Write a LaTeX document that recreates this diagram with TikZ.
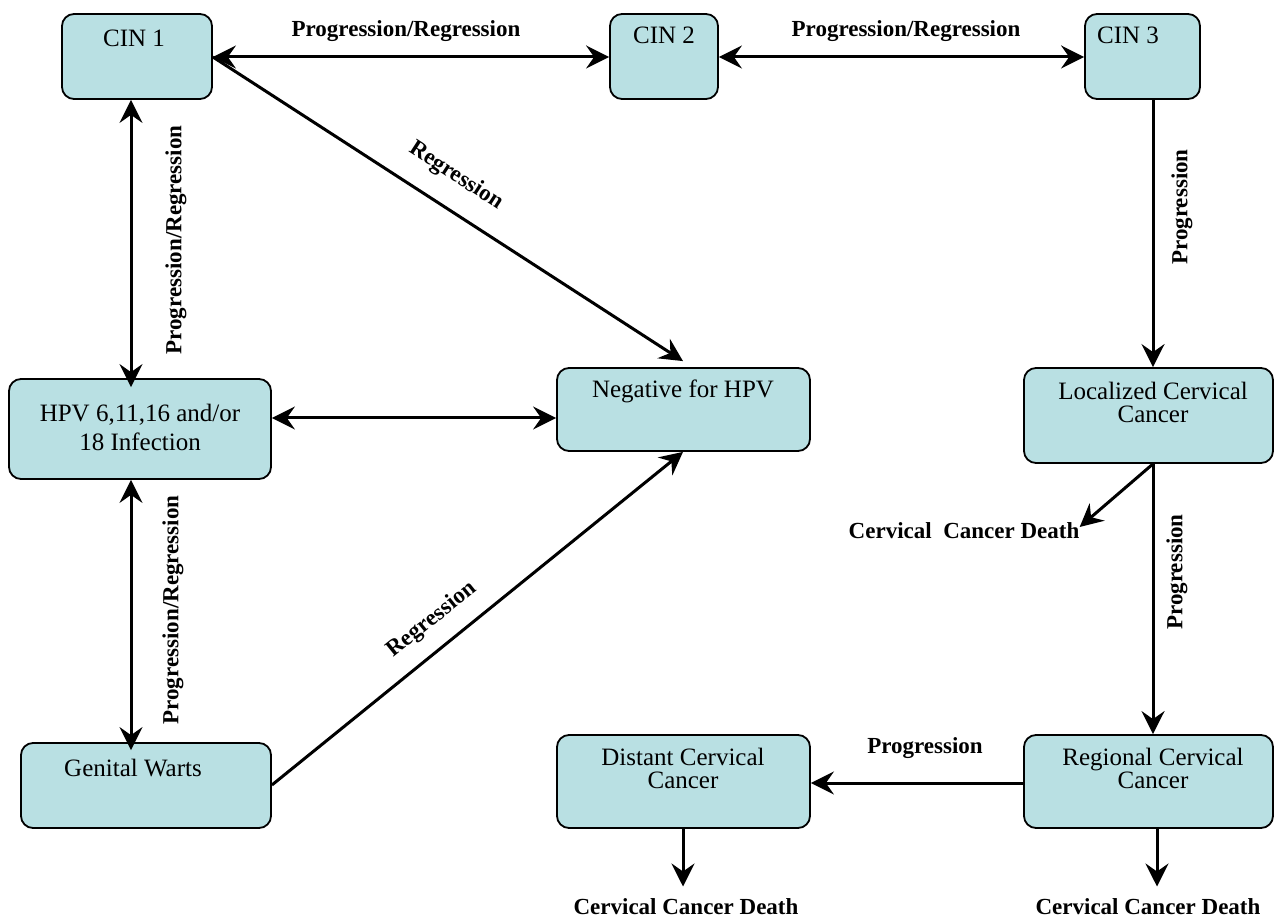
\documentclass[tikz,border=0pt]{standalone}
\usepackage{fontspec}
\setmainfont{Liberation Serif}
\usetikzlibrary{arrows.meta,fit}
\definecolor{boxfill}{RGB}{185,224,227}
\tikzset{
  box/.style={draw=black, fill=boxfill, rounded corners=6pt, line width=0.9pt, inner sep=0pt},
  boxtext/.style={font=\fontsize{12.5}{11.5}\selectfont, align=center, inner sep=0pt},
  lbl/.style={font=\bfseries\fontsize{11.5}{14}\selectfont, inner sep=0pt},
  tip/.tip={Stealth[length=11.5pt,width=11.5pt,inset=4pt]},
  conn/.style={line width=1.5pt, -tip},
  dconn/.style={line width=1.5pt, tip-tip}
}
\begin{document}
\begin{tikzpicture}[x=0.5pt,y=-0.5pt]
\useasboundingbox (0,0) rectangle (1274,919);
% boxes
\node[box, fit={(62,14) (212,99)}] (cin1) {};
\node[box, fit={(610,14) (718,99)}] (cin2) {};
\node[box, fit={(1085,14) (1200,99)}] (cin3) {};
\node[box, fit={(9,379) (271,479)}] (hpv) {};
\node[box, fit={(557,368) (810,451)}] (neg) {};
\node[box, fit={(1024,368) (1273,463)}] (loc) {};
\node[box, fit={(21,743) (271,828)}] (warts) {};
\node[box, fit={(557,735) (810,828)}] (dist) {};
\node[box, fit={(1024,735) (1273,828)}] (reg) {};
% box texts
\node[boxtext] (t1) at (134,38) {CIN 1};
\node[boxtext] (t2) at (664,35) {CIN 2};
\node[boxtext] (t3) at (1128,35) {CIN 3};
\node[boxtext, font=\fontsize{12.5}{14.5}\selectfont] (t4) at (140,427) {HPV 6,11,16 and/or\\18 Infection};
\node[boxtext] (t5) at (683,391) {Negative for HPV};
\node[boxtext] (t6) at (1153,402) {Localized Cervical\\Cancer};
\node[boxtext] (t7) at (133,768) {Genital Warts};
\node[boxtext] (t8) at (683,768) {Distant Cervical\\Cancer};
\node[boxtext] (t9) at (1153,768) {Regional Cervical\\Cancer};
% free-standing outcomes
\node[lbl] (d1) at (964,531) {Cervical\ \ Cancer Death};
\node[lbl] (d2) at (686,907) {Cervical Cancer Death};
\node[lbl] (d3) at (1148,907) {Cervical Cancer Death};
% connectors
\draw[dconn] (cin1.east |- 0,57) -- (cin2.west |- 0,57);
\draw[dconn] (cin2.east |- 0,57) -- (cin3.west |- 0,57);
\draw[dconn] (cin1.south -| 131,0) -- ([yshift=-4.5pt]hpv.north -| 131,0);
\draw[dconn] (hpv.south -| 131,0) -- ([yshift=-4pt]warts.north -| 131,0);
\draw[dconn] (hpv.east |- 0,418) -- (neg.west |- 0,418);
\draw[conn] (cin1.east |- 0,57) -- ([yshift=3pt]neg.north -| 683,0);
\draw[conn] (warts.east |- 0,785) -- (neg.south -| 683,0);
\draw[conn] (cin3.south -| 1153,0) -- (loc.north -| 1153,0);
\draw[conn] (loc.south -| 1153,0) -- (reg.north -| 1153,0);
\draw[conn] (loc.south -| 1153,0) -- (d1.east |- 0,527);
\draw[conn] (reg.west |- 0,783) -- (dist.east |- 0,783);
\draw[conn] (dist.south -| 683,0) -- ([yshift=6pt]d2.north -| 683,0);
\draw[conn] (reg.south -| 1157,0) -- ([yshift=6pt]d3.north -| 1157,0);
% connector labels
\node[lbl] (l1) at (406,31) {Progression/Regression};
\node[lbl] (l2) at (906,31) {Progression/Regression};
\node[lbl, rotate=90] (l3) at (176,240) {Progression/Regression};
\node[lbl, rotate=90] (l4) at (173,610) {Progression/Regression};
\node[lbl, rotate=-33] (l5) at (456,176) {Regression};
\node[lbl, rotate=39] (l6) at (432,620) {Regression};
\node[lbl, rotate=90] (l7) at (1182,207) {Progression};
\node[lbl, rotate=90] (l8) at (1177,572) {Progression};
\node[lbl] (l9) at (925,748) {Progression};
\end{tikzpicture}
\end{document}
